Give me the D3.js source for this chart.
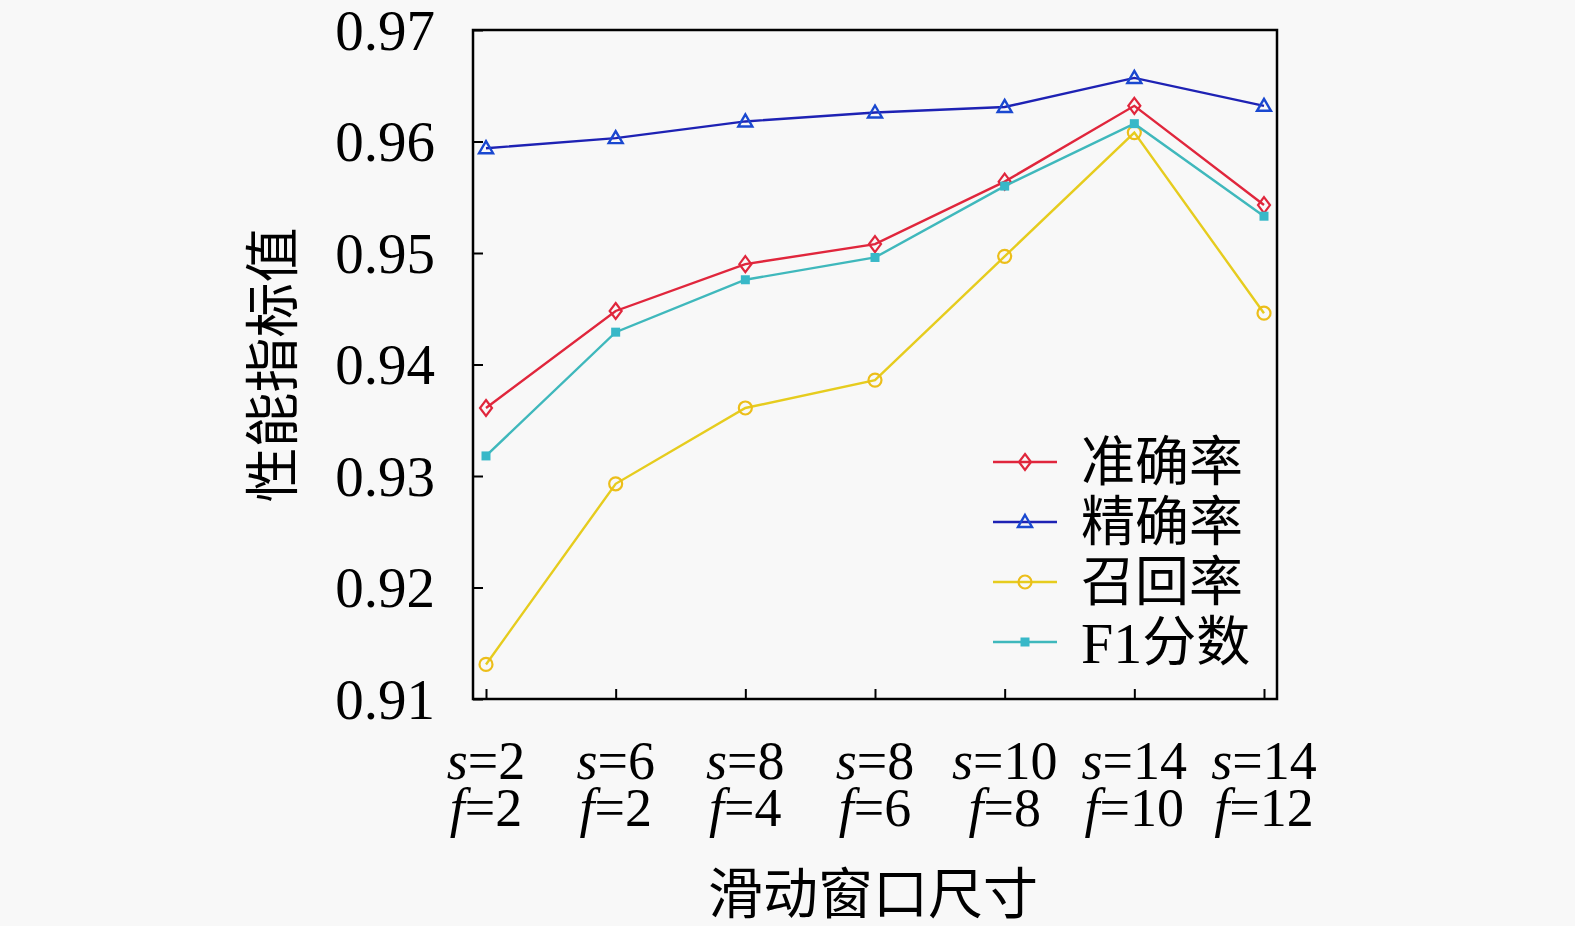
<!DOCTYPE html>
<html>
<head>
<meta charset="utf-8">
<script src="https://cdn.jsdelivr.net/npm/d3@7/dist/d3.min.js"></script>
<style>
  html, body { margin: 0; padding: 0; background: #f8f8f8; }
  svg { display: block; }
</style>
</head>
<body>
<div id="chart"></div>
<script>
const categories = [
  ['2', '2'], ['6', '2'], ['8', '4'], ['8', '6'], ['10', '8'], ['14', '10'], ['14', '12'],
];
const accuracy = [0.9361, 0.9448, 0.9490, 0.9508, 0.9564, 0.9632, 0.9543];
const precision = [0.9594, 0.9603, 0.9618, 0.9626, 0.9631, 0.9657, 0.9632];
const recall = [0.9131, 0.9293, 0.9361, 0.9386, 0.9497, 0.9608, 0.9446];
const f1 = [0.9318, 0.9429, 0.9476, 0.9496, 0.9560, 0.9616, 0.9533];
const yTicks = [0.91, 0.92, 0.93, 0.94, 0.95, 0.96, 0.97];
const seriesNames = ['准确率', '精确率', '召回率', 'F1分数'];

const width = 1575;
const height = 926;
const margin = { top: 30, right: 298, bottom: 227, left: 473 };
const innerWidth = width - margin.left - margin.right;
const innerHeight = height - margin.top - margin.bottom;
const latin = '"Liberation Serif", "DejaVu Serif", serif';
const cjk = '"Noto Sans CJK SC", sans-serif';

const series = [
  { name: seriesNames[0], values: accuracy, line: '#e0263c', marker: 'diamond' },
  { name: seriesNames[1], values: precision, line: '#1e22b4', marker: 'triangle' },
  { name: seriesNames[2], values: recall, line: '#e6cc1e', marker: 'circle' },
  { name: seriesNames[3], values: f1, line: '#3fb8bc', marker: 'square' },
];

const xScale = d3.scalePoint()
  .domain(d3.range(categories.length))
  .range([13, innerWidth - 13]);
const yScale = d3.scaleLinear().domain([0.91, 0.97]).range([innerHeight, 0]);

const svg = d3.select('#chart')
  .append('svg')
  .attr('width', width)
  .attr('height', height)
  .append('g')
  .attr('transform', `translate(${margin.left},${margin.top})`);

// y axis, ticks pointing into the plot
const yAxis = d3.axisRight(yScale).tickValues(yTicks).tickSize(10).tickFormat(d3.format('.2f'));
const gy = svg.append('g').call(yAxis);
gy.select('.domain').remove();
gy.selectAll('line').attr('stroke', '#000').attr('stroke-width', 2);
gy.selectAll('text')
  .attr('x', -38)
  .attr('dy', '0.34em')
  .attr('text-anchor', 'end')
  .attr('font-family', latin)
  .attr('font-size', 57)
  .attr('fill', '#000');

// x axis, ticks pointing up
const xAxis = d3.axisTop(xScale).tickSize(10).tickFormat('');
const gx = svg.append('g').attr('transform', `translate(0,${innerHeight})`).call(xAxis);
gx.select('.domain').remove();
gx.selectAll('text').remove();
gx.selectAll('line').attr('stroke', '#000').attr('stroke-width', 2);

// two line category labels: italic variable, then "=value"
const labels = svg.append('g').attr('font-family', latin).attr('font-size', 54).attr('fill', '#000');
function catLabel(x, y, v, val) {
  const g = labels.append('g');
  const a = g.append('text').attr('y', y).attr('font-style', 'italic').text(v);
  const b = g.append('text').attr('y', y).text('=' + val);
  const wa = a.node().getComputedTextLength();
  const wb = b.node().getComputedTextLength();
  const x0 = x - (wa + wb) / 2;
  a.attr('x', x0);
  b.attr('x', x0 + wa);
}
categories.forEach((c, i) => {
  catLabel(xScale(i), innerHeight + 80, 's', c[0]);
  catLabel(xScale(i), innerHeight + 127, 'f', c[1]);
});

// frame
svg.append('rect')
  .attr('width', innerWidth)
  .attr('height', innerHeight)
  .attr('fill', 'none')
  .attr('stroke', '#000')
  .attr('stroke-width', 2.5);

const line = d3.line()
  .x((d, i) => xScale(i))
  .y((d) => yScale(d));

function drawMarker(g, type, color) {
  if (type === 'diamond') {
    g.append('path').attr('d', 'M0,-8L6,0L0,8L-6,0Z')
      .attr('fill', 'none').attr('stroke', color).attr('stroke-width', 2.2);
  } else if (type === 'triangle') {
    g.append('path').attr('d', 'M0,-7L7,5L-7,5Z')
      .attr('fill', 'none').attr('stroke', '#1a48d0').attr('stroke-width', 2.4);
  } else if (type === 'circle') {
    g.append('circle').attr('r', 6.5)
      .attr('fill', 'none').attr('stroke', '#ecbe1a').attr('stroke-width', 2.2);
  } else {
    g.append('rect').attr('x', -4.5).attr('y', -4.5).attr('width', 9).attr('height', 9)
      .attr('fill', '#38b8c8');
  }
}

series.forEach((s) => {
  svg.append('path')
    .attr('d', line(s.values))
    .attr('fill', 'none')
    .attr('stroke', s.line)
    .attr('stroke-width', 2.4);
  s.values.forEach((v, i) => {
    const g = svg.append('g').attr('transform', `translate(${xScale(i)},${yScale(v)})`);
    drawMarker(g, s.marker, s.line);
  });
});

// legend
const legend = svg.append('g').attr('transform', `translate(${993 - margin.left},${462 - margin.top})`);
series.forEach((s, i) => {
  const row = legend.append('g').attr('transform', `translate(0,${i * 60})`);
  row.append('line').attr('x1', 0).attr('x2', 64).attr('stroke', s.line).attr('stroke-width', 2.4);
  drawMarker(row.append('g').attr('transform', 'translate(32,0)'), s.marker, s.line);
  if (s.name.startsWith('F1')) {
    const a = row.append('text')
      .attr('x', 88).attr('dy', '0.36em')
      .attr('font-family', latin).attr('font-size', 58).attr('fill', '#000')
      .text('F1');
    row.append('text')
      .attr('x', 88 + a.node().getComputedTextLength())
      .attr('dy', '0.36em')
      .attr('font-family', cjk).attr('font-size', 54).attr('fill', '#000')
      .text(s.name.slice(2));
  } else {
    row.append('text')
      .attr('x', 88).attr('dy', '0.36em')
      .attr('font-family', cjk).attr('font-size', 54).attr('fill', '#000')
      .text(s.name);
  }
});

// axis titles
svg.append('text')
  .attr('transform', `translate(${272 - margin.left},${365 - margin.top}) rotate(-90)`)
  .attr('text-anchor', 'middle')
  .attr('dy', '0.36em')
  .attr('font-family', cjk)
  .attr('font-size', 55)
  .attr('fill', '#000')
  .text('性能指标值');

svg.append('text')
  .attr('x', 873 - margin.left)
  .attr('y', 893 - margin.top)
  .attr('text-anchor', 'middle')
  .attr('dy', '0.36em')
  .attr('font-family', cjk)
  .attr('font-size', 55)
  .attr('fill', '#000')
  .text('滑动窗口尺寸');
</script>
</body>
</html>
